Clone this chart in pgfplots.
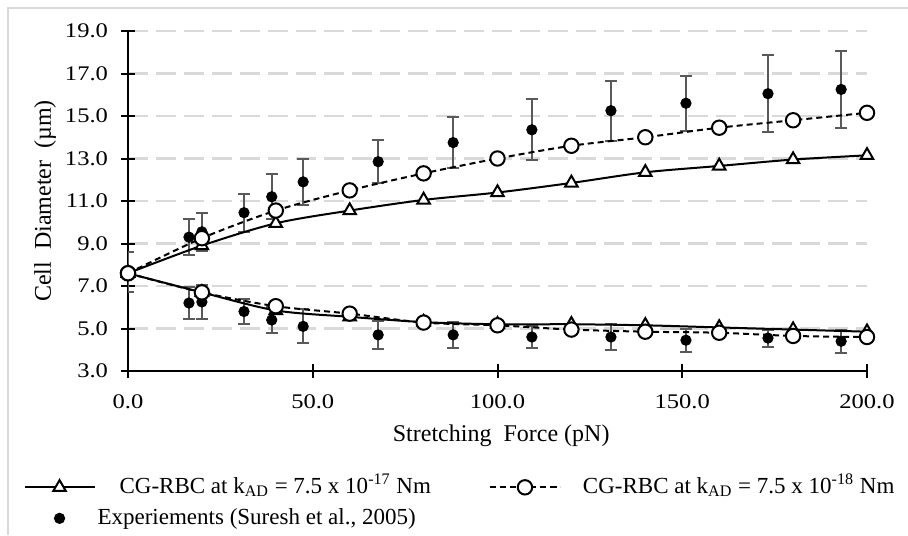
\documentclass[border=0pt]{standalone}
\usepackage{pgfplots}
\pgfplotsset{compat=1.18}
\usepackage{fontspec}
\setmainfont{Liberation Serif}
\newfontfamily\tickfont{Liberation Serif}[FakeStretch=1.18]
\definecolor{gridgray}{HTML}{D9D9D9}
\definecolor{errgray}{HTML}{595959}

\pgfplotstableread{
x y ey
0 7.65 0.95
16.5 9.3 0.85
20 9.55 0.9
31.4 10.45 0.9
38.9 11.2 1.05
47.4 11.9 1.08
67.7 12.85 1.0
88 13.75 1.2
109.3 14.35 1.43
130.7 15.25 1.42
151 15.6 1.3
173.2 16.05 1.8
193 16.25 1.8
}\expup
\pgfplotstableread{
x y ey
16.5 6.2 0.75
20 6.25 0.8
31.4 5.8 0.6
38.9 5.4 0.6
47.4 5.1 0.8
67.7 4.7 0.65
88 4.7 0.6
109.3 4.6 0.5
130.7 4.6 0.6
151 4.45 0.55
173.2 4.55 0.4
193 4.4 0.55
}\explow

\begin{document}
\begin{tikzpicture}[font=\fontsize{12}{14}\selectfont]
\useasboundingbox (0,0) rectangle (454pt,-267.5pt);
\draw[gridgray, line width=0.8pt] (4pt,-267.5pt) -- (4pt,-4pt) -- (454pt,-4pt);
\begin{axis}[
  at={(64pt,-185.5pt)}, anchor=south west,
  scale only axis, width=369.5pt, height=170pt,
  xmin=0, xmax=200, ymin=3, ymax=19,
  axis lines=left, axis line style={-, line width=1pt, black},
  xtick={0,50,...,200}, ytick={3,5,...,19},
  tick align=center, major tick length=7pt,
  tick style={line width=1pt, black},
  ymajorgrids, grid style={gridgray, line width=1.2pt, dash pattern=on 10pt off 4pt},
  ticklabel style={font=\tickfont\fontsize{10.4}{11}\selectfont},
  yticklabel style={xshift=-3pt},
  xticklabel style={yshift=-5pt},
  xticklabel={\pgfmathprintnumber[fixed,fixed zerofill,precision=1,assume math mode=true]{\tick}},
  yticklabel={\pgfmathprintnumber[fixed,fixed zerofill,precision=1,assume math mode=true]{\tick}},
  xlabel={Stretching\ \ Force (pN)},
  ylabel={Cell\ \ Diameter\ \ (µm)},
  every axis x label/.append style={at={(axis description cs:0.505,-0.191)}, anchor=center},
  every axis y label/.append style={at={(axis description cs:-0.1123,0.5)}, anchor=center},
  legend style={at={(-0.150,-0.288)}, anchor=north west, draw=none, fill=none,
    font=\fontsize{11.5}{13}\selectfont,
    legend columns=2, nodes={inner sep=1pt, text height=9pt, text depth=3pt},
    row sep=1.5pt,
    /tikz/every even column/.append style={column sep=28pt}},
  legend cell align=left,
  legend image code/.code={\draw[mark repeat=2,mark phase=2,#1] plot coordinates {(0pt,0pt)(17.5pt,0pt)(35pt,0pt)};},
]
% experiments (drawn first, behind)
\addplot[only marks, mark=*, mark size=2.6pt, black, forget plot,
  error bars/.cd, y dir=both, y explicit,
  error bar style={errgray, line width=1pt},
  error mark options={errgray, rotate=90, mark size=3pt, line width=1pt}]
  table[x=x, y=y, y error=ey] {\expup};
\addplot[only marks, mark=*, mark size=2.6pt, black, forget plot,
  error bars/.cd, y dir=both, y explicit,
  error bar style={errgray, line width=1pt},
  error mark options={errgray, rotate=90, mark size=3pt, line width=1pt}]
  table[x=x, y=y, y error=ey] {\explow};
% triangles k = 7.5e-17
\addplot[black, line width=1pt, smooth, tension=0.5, mark=triangle*, mark size=3.6pt,
  mark options={solid, fill=white, line width=1pt}]
  coordinates {(0,7.6)(20,8.9)(40,9.95)(60,10.55)(80,11.05)(100,11.4)(120,11.85)(140,12.35)(160,12.65)(180,12.95)(200,13.15)};
\addlegendentry{\hspace*{11pt}CG-RBC at k\textsubscript{AD} = 7.5 x 10\textsuperscript{-17} Nm}
% circles k = 7.5e-18
\addplot[black, line width=1pt, dash pattern=on 3pt off 2pt, smooth, tension=0.5, mark=*, mark size=3.6pt,
  mark options={solid, fill=white, line width=1pt}]
  coordinates {(0,7.6)(20,9.25)(40,10.55)(60,11.5)(80,12.3)(100,13.0)(120,13.6)(140,14.0)(160,14.45)(180,14.8)(200,15.15)};
\addlegendentry{\hspace*{10pt}CG-RBC at k\textsubscript{AD} = 7.5 x 10\textsuperscript{-18} Nm}
\addplot[black, line width=1pt, smooth, tension=0.5, mark=triangle*, mark size=3.6pt,
  mark options={solid, fill=white, line width=1pt}, forget plot]
  coordinates {(0,7.6)(20,6.7)(40,5.85)(60,5.55)(80,5.3)(100,5.2)(120,5.2)(140,5.15)(160,5.05)(180,4.95)(200,4.85)};
\addplot[black, line width=1pt, dash pattern=on 3pt off 2pt, smooth, tension=0.5, mark=*, mark size=3.6pt,
  mark options={solid, fill=white, line width=1pt}, forget plot]
  coordinates {(0,7.6)(20,6.7)(40,6.05)(60,5.7)(80,5.28)(100,5.15)(120,4.95)(140,4.85)(160,4.8)(180,4.65)(200,4.6)};
\addlegendimage{only marks, mark=*, mark size=2.6pt, black}
\addlegendentry{Experiements (Suresh et al., 2005)}
\end{axis}
\end{tikzpicture}
\end{document}
